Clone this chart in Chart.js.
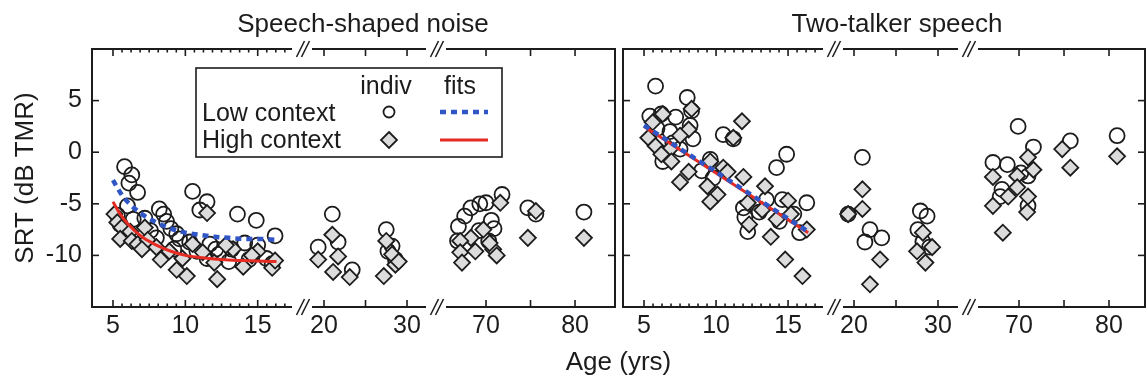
<!DOCTYPE html>
<html><head><meta charset="utf-8">
<script src="https://cdn.jsdelivr.net/npm/chart.js@4.4.0/dist/chart.umd.min.js"></script>
<style>html,body{margin:0;padding:0;background:#fff;overflow:hidden}canvas{display:block}</style>
</head><body>
<canvas id="c" width="1147" height="384"></canvas>
<script>
// ---------- data (age in years, SRT in dB TMR) ----------
// Speech-shaped noise panel
const ssnLowAge = [5.8, 6.3, 6.1, 6.7, 5.3, 5.5, 6.0, 6.4, 7.2, 7.6, 8.2, 8.5, 8.7, 8.0, 9.0, 9.4, 9.6, 9.2, 10.5, 11.0, 11.5, 10.3, 10.8, 11.7, 12.1, 11.5, 12.3, 13.6, 14.9, 16.2, 13.2, 14.1, 15.0, 15.6, 16.0, 14.4, 13.0, 19.3, 21.0, 21.7, 23.4, 27.5, 28.2, 28.6, 27.7, 66.9, 67.6, 68.3, 69.3, 70.0, 71.8, 70.6, 70.9, 69.2, 70.3, 66.8, 74.7, 75.6, 81.0];
const ssnLowSrt = [-1.4, -2.2, -3.0, -3.9, -6.1, -7.0, -5.2, -6.5, -6.4, -7.6, -5.5, -6.0, -6.7, -8.3, -7.4, -7.9, -8.4, -9.4, -3.8, -5.6, -4.8, -8.7, -9.6, -8.9, -9.4, -10.3, -9.9, -6.0, -6.6, -8.1, -9.4, -8.8, -9.0, -10.3, -10.8, -10.4, -10.6, -9.2, -6.0, -8.7, -11.4, -7.5, -9.1, -10.4, -9.6, -7.2, -6.2, -5.4, -5.0, -4.9, -4.1, -6.6, -7.4, -7.6, -8.6, -8.6, -5.4, -6.0, -5.8];
const ssnHighAge = [5.1, 5.3, 5.6, 5.5, 6.2, 6.3, 6.7, 7.2, 7.4, 8.0, 8.3, 8.9, 9.4, 10.1, 10.5, 11.5, 11.2, 12.0, 12.2, 13.3, 14.0, 15.0, 16.0, 9.8, 12.8, 14.6, 16.2, 7.0, 19.3, 21.0, 21.7, 21.1, 23.1, 27.5, 28.6, 27.2, 28.2, 29.0, 71.6, 69.7, 68.3, 67.1, 67.1, 67.3, 68.8, 70.8, 70.4, 71.2, 75.6, 74.7, 81.0];
const ssnHighSrt = [-6.0, -6.8, -7.3, -8.4, -7.7, -8.6, -8.9, -7.3, -8.5, -9.2, -10.4, -9.6, -11.4, -12.0, -8.9, -5.9, -9.7, -10.7, -12.3, -9.4, -11.1, -9.6, -11.2, -10.3, -9.0, -10.0, -10.5, -9.4, -10.4, -8.0, -10.1, -11.6, -12.1, -8.6, -10.9, -12.0, -9.9, -10.6, -4.9, -7.5, -8.3, -8.6, -9.7, -10.7, -9.6, -9.4, -8.8, -10.0, -5.7, -8.3, -8.3];
const ssnFitAge = [5, 5.5, 6, 7, 8, 9, 10, 11, 12, 13, 14, 15, 16.3];
const ssnLowFit = [-2.7, -3.9, -4.8, -6.0, -6.8, -7.4, -7.8, -8.0, -8.2, -8.3, -8.4, -8.4, -8.5];
const ssnHighFit = [-4.8, -6.0, -6.9, -8.2, -9.0, -9.6, -10.0, -10.2, -10.35, -10.45, -10.5, -10.55, -10.6];

// Two-talker speech panel
const ttsLowAge = [5.8, 5.4, 6.2, 7.2, 8.0, 8.3, 10.5, 11.2, 14.2, 14.9, 6.3, 7.5, 8.4, 9.6, 5.9, 6.8, 8.2, 6.5, 7.0, 9.0, 9.8, 16.3, 14.6, 11.9, 12.2, 15.8, 13.5, 14.4, 13.0, 12.0, 15.4, 21.0, 19.3, 21.9, 23.3, 21.3, 27.9, 28.7, 27.6, 28.2, 29.0, 69.9, 67.1, 68.7, 71.6, 71.0, 75.7, 80.9, 67.9, 71.0, 70.2, 68.1];
const ttsLowSrt = [6.4, 3.5, 3.7, 3.4, 5.3, 4.0, 1.7, 1.3, -1.5, -0.2, -0.9, 0.3, 1.3, -0.7, 2.3, 2.0, 2.6, -0.2, 0.9, -1.8, -2.5, -4.9, -4.6, -5.4, -7.7, -7.8, -4.6, -6.7, -5.8, -6.3, -6.0, -0.5, -6.0, -7.5, -8.3, -8.7, -5.7, -6.2, -7.5, -8.7, -9.2, 2.5, -1.0, -1.2, 0.5, -2.3, 1.1, 1.6, -4.3, -5.2, -2.0, -3.6];
const ttsHighAge = [6.3, 8.3, 11.8, 11.2, 5.6, 5.3, 5.8, 6.8, 6.2, 8.1, 7.5, 8.1, 7.5, 9.6, 10.5, 11.9, 13.4, 9.4, 10.1, 9.6, 12.2, 12.3, 15.0, 14.2, 13.8, 16.3, 14.8, 16.0, 10.8, 6.9, 13.2, 15.2, 21.0, 21.0, 19.3, 23.1, 21.9, 28.2, 27.5, 29.3, 28.5, 67.1, 69.8, 71.0, 71.6, 68.8, 69.8, 71.0, 70.9, 67.1, 68.2, 74.8, 75.7, 80.9];
const ttsHighSrt = [3.7, 4.2, 3.0, 1.4, 2.9, 1.4, 0.6, 0.3, -0.2, 2.2, 1.6, -1.9, -2.9, -0.9, -1.5, -2.4, -3.3, -3.3, -4.1, -4.8, -4.9, -7.0, -4.7, -6.5, -8.2, -7.5, -10.4, -12.0, -1.9, -0.9, -5.6, -6.0, -3.6, -5.5, -6.0, -10.4, -12.8, -7.8, -9.6, -9.2, -10.7, -2.4, -2.3, -0.5, -1.7, -4.3, -3.4, -4.3, -5.8, -5.2, -7.8, 0.3, -1.5, -0.4];
const ttsFitAge = [5, 16.4];
const ttsLowFit = [2.6, -7.7];
const ttsHighFit = [2.5, -7.8];

// ticks
const srtTicks = [-10, -5, 0, 5];
const youngTicks = [5, 10, 15];
const youngMinor = [5.625, 6.25, 6.875, 7.5, 8.125, 8.75, 9.375, 10.625, 11.25, 11.875, 12.5, 13.125, 13.75, 14.375, 15.625, 16.25, 16.875];
const adultTicks = [20, 25, 30];
const adultLabels = [20, 30];
const olderTicks = [70, 75, 80];
const olderLabels = [70, 80];

// ---------- styling ----------
const INK = '#1c1c1c';
const DIAMOND_FILL = '#dcdcdc';
const BLUE = '#2f55c6';
const RED = '#e62b22';
const FONT = '"Liberation Sans", Arial, sans-serif';
Chart.defaults.font.family = FONT;
Chart.defaults.font.size = 25;
Chart.defaults.color = INK;

function segIndex(a) { return a < 18 ? 0 : (a < 50 ? 1 : 2); }
function pointSets(ages, vals, ids, style) {
  return ids.map((id, k) => Object.assign({
    xAxisID: id, yAxisID: 'y',
    data: ages.map((a, i) => ({ x: a, y: vals[i] })).filter(p => segIndex(p.x) === k)
  }, style));
}
const circleStyle = { pointStyle: 'circle', pointRadius: 7.5, pointBorderWidth: 1.8, borderWidth: 1.8,
  pointBorderColor: INK, borderColor: INK, pointBackgroundColor: 'rgba(255,255,255,0)', backgroundColor: 'rgba(255,255,255,0)', order: 3 };
const diamondStyle = { pointStyle: 'rectRot', pointRadius: 8, pointBorderWidth: 1.8, borderWidth: 1.8,
  pointBorderColor: INK, borderColor: INK, pointBackgroundColor: DIAMOND_FILL, backgroundColor: DIAMOND_FILL, order: 2 };
function fitSet(id, ages, vals, color, width, dash, order, curve) {
  return { xAxisID: id, yAxisID: 'y', showLine: true, pointRadius: 0, borderColor: color, backgroundColor: color,
    borderWidth: width, borderDash: dash, order: order, tension: 0,
    cubicInterpolationMode: curve ? 'monotone' : 'default',
    data: ages.map((a, i) => ({ x: a, y: vals[i] })) };
}

const datasets = [].concat(
  pointSets(ssnLowAge, ssnLowSrt, ['L1', 'L2', 'L3'], circleStyle),
  pointSets(ssnHighAge, ssnHighSrt, ['L1', 'L2', 'L3'], diamondStyle),
  pointSets(ttsLowAge, ttsLowSrt, ['R1', 'R2', 'R3'], circleStyle),
  pointSets(ttsHighAge, ttsHighSrt, ['R1', 'R2', 'R3'], diamondStyle),
  [fitSet('L1', ssnFitAge, ssnHighFit, RED, 3, [], 1, true),
   fitSet('L1', ssnFitAge, ssnLowFit, BLUE, 4.5, [6, 5], 0, true),
   fitSet('R1', ttsFitAge, ttsHighFit, RED, 3, [], 1, false),
   fitSet('R1', ttsFitAge, ttsLowFit, BLUE, 4.5, [6, 5], 0, false)]
);

function noPad(sc) { sc.paddingLeft = 0; sc.paddingRight = 0; sc.paddingTop = 0; sc.paddingBottom = 0; }
function segAxis(min, max, w, order, marks, labels) {
  return {
    type: 'linear', position: 'bottom', stack: 'age', stackWeight: w, weight: order,
    min: min, max: max,
    grid: { display: false, drawTicks: false }, border: { display: false },
    afterBuildTicks: sc => { sc.ticks = marks.map(v => ({ value: v })); },
    afterFit: sc => { sc.height = 40; noPad(sc); },
    ticks: { autoSkip: false, maxRotation: 0, minRotation: 0, padding: 4, color: INK, font: { size: 25 },
      callback: v => labels.includes(v) ? String(v) : '' }
  };
}
function blankAxis(pos, stack, w, order, h, title) {
  const o = {
    type: 'linear', position: pos, weight: order, min: 0, max: 1,
    grid: { display: false, drawTicks: false }, border: { display: false },
    ticks: { display: false },
    afterFit: sc => { sc.height = h; noPad(sc); }
  };
  if (stack) { o.stack = stack; o.stackWeight = w; }
  if (title) o.title = title;
  return o;
}

const framePlugin = {
  id: 'frame',
  afterDatasetsDraw(chart) {
    const { ctx, chartArea: ca, scales: s } = chart;
    const T = ca.top, B = ca.bottom;
    ctx.save();
    ctx.strokeStyle = INK; ctx.lineCap = 'butt';
    const seg = (x1, y1, x2, y2, w) => { ctx.lineWidth = w; ctx.beginPath(); ctx.moveTo(x1, y1); ctx.lineTo(x2, y2); ctx.stroke(); };
    [['L1', 'L2', 'L3'], ['R1', 'R2', 'R3']].forEach(ids => {
      const [a, b, c] = ids.map(id => s[id]);
      const xl = a.left, xr = c.right;
      seg(xl, T - 1, xl, B + 1, 2); seg(xr, T - 1, xr, B + 1, 2);
      [T, B].forEach(y => {
        seg(xl, y, a.right - 10, y, 2);
        seg(a.right + 10, y, b.right - 10, y, 2);
        seg(b.right + 10, y, xr, y, 2);
        [a.right, b.right].forEach(cx => { [-1.5, 3.5].forEach(dx => seg(cx + dx - 4, y + 8, cx + dx + 4, y - 8, 1.6)); });
      });
      const xt = (sc, vals, len) => vals.forEach(v => {
        const x = sc.getPixelForValue(v);
        seg(x, B, x, B - len, 1.6); seg(x, T, x, T + len, 1.6);
      });
      xt(a, youngTicks, 7); xt(a, youngMinor, 3.5); xt(b, adultTicks, 7); xt(c, olderTicks, 7);
      srtTicks.forEach(v => {
        const y = s.y.getPixelForValue(v);
        seg(xl, y, xl + 7, y, 1.6); seg(xr, y, xr - 7, y, 1.6);
      });
    });
    ctx.restore();
  }
};

const legendPlugin = {
  id: 'legendBox',
  afterDraw(chart) {
    const { ctx, chartArea: ca, scales: s } = chart;
    const lx = s.L1.left + 104, ly = ca.top + 19, w = 306, h = 89;
    ctx.save();
    ctx.strokeStyle = INK; ctx.lineWidth = 1.6;
    ctx.strokeRect(lx, ly, w, h);
    ctx.fillStyle = INK; ctx.font = '25px ' + FONT; ctx.textBaseline = 'middle';
    ctx.textAlign = 'center';
    ctx.fillText('indiv', lx + 190, ly + 19);
    ctx.fillText('fits', lx + 264, ly + 19);
    ctx.textAlign = 'left';
    ctx.fillText('Low context', lx + 6, ly + 46);
    ctx.fillText('High context', lx + 6, ly + 73);
    ctx.lineWidth = 1.8;
    ctx.beginPath(); ctx.arc(lx + 193, ly + 44, 5.5, 0, 2 * Math.PI); ctx.stroke();
    const dx = lx + 193, dy = ly + 72, r = 8;
    ctx.beginPath(); ctx.moveTo(dx, dy - r); ctx.lineTo(dx + r, dy); ctx.lineTo(dx, dy + r); ctx.lineTo(dx - r, dy); ctx.closePath();
    ctx.fillStyle = DIAMOND_FILL; ctx.fill(); ctx.stroke();
    ctx.strokeStyle = BLUE; ctx.lineWidth = 4.5; ctx.setLineDash([6, 5]);
    ctx.beginPath(); ctx.moveTo(lx + 244, ly + 44); ctx.lineTo(lx + 292, ly + 44); ctx.stroke();
    ctx.setLineDash([]);
    ctx.strokeStyle = RED; ctx.lineWidth = 3;
    ctx.beginPath(); ctx.moveTo(lx + 244, ly + 72); ctx.lineTo(lx + 292, ly + 72); ctx.stroke();
    ctx.restore();
  }
};

new Chart(document.getElementById('c'), {
  type: 'scatter',
  data: { datasets: datasets },
  options: {
    responsive: false, animation: false, events: [],
    layout: { autoPadding: false, padding: { left: 0, right: 2, top: 0, bottom: 0 } },
    plugins: { legend: { display: false }, tooltip: { enabled: false }, title: { display: false } },
    scales: {
      y: {
        type: 'linear', position: 'left', min: -15, max: 10,
        grid: { display: false, drawTicks: false }, border: { display: false },
        afterBuildTicks: sc => { sc.ticks = srtTicks.map(v => ({ value: v })); },
        afterFit: sc => { sc.width = 92; noPad(sc); },
        ticks: { padding: 10, color: INK, font: { size: 25 }, callback: v => String(v) },
        title: { display: true, text: 'SRT (dB TMR)', color: INK, font: { size: 26 }, padding: { top: 10, bottom: 0 } }
      },
      L1: segAxis(3.55, 18.06, 210, 0, youngTicks, youngTicks),
      L2: segAxis(17.35, 33.49, 134, 1, adultTicks, adultLabels),
      L3: segAxis(64.38, 84.49, 179, 2, olderTicks, olderLabels),
      G: blankAxis('bottom', 'age', 8, 3, 40, null),
      R1: segAxis(3.54, 18.12, 210, 4, youngTicks, youngTicks),
      R2: segAxis(17.5, 33.57, 135, 5, adultTicks, adultLabels),
      R3: segAxis(64.33, 84.0, 177, 6, olderTicks, olderLabels),
      AT: blankAxis('bottom', null, 0, 10, 37,
        { display: true, text: 'Age (yrs)', color: INK, font: { size: 26 }, padding: { top: 0, bottom: 6 } }),
      TL: blankAxis('top', 'ttl', 542, 2, 49,
        { display: true, text: 'Speech-shaped noise', color: INK, font: { size: 26 }, padding: { top: 9, bottom: 0 } }),
      TG: blankAxis('top', 'ttl', 15, 1, 49, null),
      TR: blankAxis('top', 'ttl', 496, 0, 49,
        { display: true, text: 'Two-talker speech', color: INK, font: { size: 26 }, padding: { top: 9, bottom: 0 } })
    }
  },
  plugins: [framePlugin, legendPlugin]
});
</script>
</body></html>
